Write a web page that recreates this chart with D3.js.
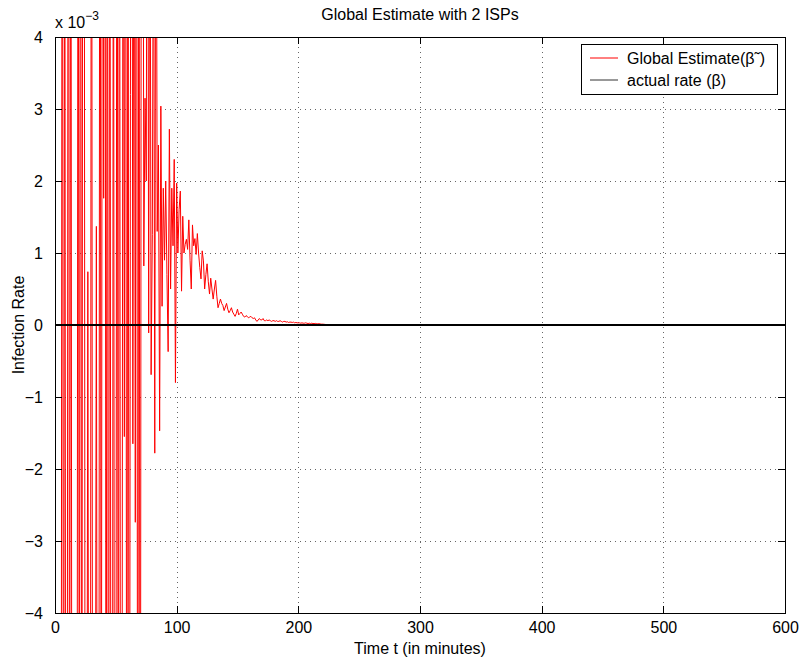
<!DOCTYPE html>
<html lang="en">
<head>
<meta charset="UTF-8">
<title>Global Estimate with 2 ISPs</title>
<script src="https://d3js.org/d3.v7.min.js"></script>
<style>
    body { margin: 0; background: #fff; }
    text { font-family: "Liberation Sans", Arial, sans-serif; fill: #000; }
    .axis path { display: none; }
    .axis line { stroke: #000; shape-rendering: crispEdges; }
    .grid line { stroke: #666; stroke-dasharray: 1,4; shape-rendering: crispEdges; }
    .grid path { display: none; }
</style>
</head>
<body>
<div id="chart"></div>
<script>
    // global estimate, one sample per minute from t = 0 (units of 1e-3)
    const estimate = [
        -6, -14, -9, -12, -8, -10, 12, -11, 9, -13,
        -9, 14, -10, 11, -12, -15, -9, -13, -11, 10,
        -9, 13, -12, 15, 9, -14, -10, 0.74, -12, -10,
        12, -11, -14, -9, 1.37, -12, -10, 14, -11, 12,
        1.76, 13, -10, 11, -13, 12, -9, -14, 10, -12,
        -10, 13, -11, 12, -13, -9, 10, -1.55, 12, -11,
        11, -13, 3.2, 12, -1.65, 10, -2.74, 13, -12, 11,
        -13, 9, 12, 0.82, 3.15, 2.0, 10, -0.11, 8, -0.69,
        1.26, 7, -1.78, 9, 1.3, 2.5, -1.47, 3.04, 0.26, 1.9,
        0.9, 2.0, 0.7, -0.37, 2.72, 0.5, 1.9, 1.1, 2.3, -0.8,
        1.97, 1.0, 1.6, 1.86, 0.47, 1.51, 1.0, 1.12, 1.19, 1.05,
        1.46, 0.9, 0.5, 1.39, 1.1, 1.2, 0.98, 1.27, 1.0, 0.8,
        0.64, 1.03, 0.89, 0.5, 0.7, 0.85, 0.6, 0.43, 0.65, 0.5,
        0.36, 0.5, 0.62, 0.4, 0.24, 0.3, 0.36, 0.3, 0.27, 0.2,
        0.25, 0.3, 0.22, 0.17, 0.2, 0.24, 0.18, 0.15, 0.12, 0.16,
        0.22, 0.14, 0.16, 0.18, 0.15, 0.12, 0.11, 0.13, 0.12, 0.1,
        0.11, 0.12, 0.1, 0.09, 0.1, 0.07, 0.05, 0.07, 0.09, 0.07,
        0.07, 0.09, 0.06, 0.06, 0.07, 0.06, 0.07, 0.06, 0.05, 0.06,
        0.06, 0.05, 0.06, 0.05, 0.05, 0.06, 0.05, 0.04, 0.05, 0.05,
        0.04, 0.045, 0.035, 0.04, 0.04, 0.035, 0.04, 0.03, 0.035, 0.03,
        0.03, 0.03, 0.025, 0.03, 0.025, 0.025, 0.03, 0.025, 0.02, 0.025,
        0.02, 0.025, 0.02, 0.02, 0.022, 0.02, 0.016, 0.018, 0.015, 0.012,
        0.012, 0.01, 0.008, 0.006, 0.005, 0.004, 0.003, 0.003, 0.002, 0.002, 0.002
    ];
    const actualTime = [0, 600];
    const actualRate = [0, 0];

    const xTicks = [0, 100, 200, 300, 400, 500, 600];
    const yTicks = [-4, -3, -2, -1, 0, 1, 2, 3, 4];
    const legendLabels = ["Global Estimate(β", "actual rate (β)"];

    const width = 800;
    const height = 658;
    const margin = {top: 37, right: 15, bottom: 45, left: 55};
    const tick = 7;

    const estData = estimate.map((v, i) => ({t: i, v: v}));
    const actData = actualTime.map((t, i) => ({t: t, v: actualRate[i]}));

    const svg = d3.select("#chart").append("svg")
        .attr("width", width)
        .attr("height", height);

    const x = d3.scaleLinear().domain([0, 600]).range([margin.left, width - margin.right]);
    const y = d3.scaleLinear().domain([-4, 4]).range([height - margin.bottom, margin.top]);

    // grid
    svg.append("g").attr("class", "grid")
        .attr("transform", `translate(0,${height - margin.bottom})`)
        .call(d3.axisBottom(x).tickValues(xTicks.slice(1, -1)).tickSize(-(y.range()[0] - y.range()[1])).tickFormat(""));
    svg.append("g").attr("class", "grid")
        .attr("transform", `translate(${margin.left},0)`)
        .call(d3.axisLeft(y).tickValues(yTicks.slice(1, -1)).tickSize(-(x.range()[1] - x.range()[0])).tickFormat(""));

    // clip for the data
    svg.append("clipPath").attr("id", "plot-clip")
        .append("rect")
        .attr("x", margin.left).attr("y", margin.top)
        .attr("width", x.range()[1] - x.range()[0])
        .attr("height", y.range()[0] - y.range()[1]);

    const line = d3.line().x(d => x(d.t)).y(d => y(d.v));

    svg.append("path")
        .datum(estData)
        .attr("clip-path", "url(#plot-clip)")
        .attr("fill", "none")
        .attr("stroke", "#ff0000")
        .attr("stroke-width", 1)
        .attr("d", line);

    svg.append("path")
        .datum(actData)
        .attr("clip-path", "url(#plot-clip)")
        .attr("fill", "none")
        .attr("stroke", "#000")
        .attr("stroke-width", 2.2)
        .attr("d", line);

    // axes, ticks pointing inward
    const fmt = d => d < 0 ? "\u2212" + Math.abs(d) : String(d);

    const xAxis = svg.append("g").attr("class", "axis")
        .attr("transform", `translate(0,${height - margin.bottom})`)
        .call(d3.axisBottom(x).tickValues(xTicks).tickSize(-tick).tickPadding(9).tickFormat(fmt));
    svg.append("g").attr("class", "axis")
        .attr("transform", `translate(0,${margin.top})`)
        .call(d3.axisTop(x).tickValues(xTicks).tickSize(-tick).tickFormat(""));
    const yAxis = svg.append("g").attr("class", "axis")
        .attr("transform", `translate(${margin.left},0)`)
        .call(d3.axisLeft(y).tickValues(yTicks).tickSize(-tick).tickPadding(tick + 5).tickFormat(fmt));
    svg.append("g").attr("class", "axis")
        .attr("transform", `translate(${width - margin.right},0)`)
        .call(d3.axisRight(y).tickValues(yTicks).tickSize(-tick).tickFormat(""));

    xAxis.selectAll("text").style("font-size", "16px");
    yAxis.selectAll("text").style("font-size", "16px");

    // box
    svg.append("rect")
        .attr("x", margin.left).attr("y", margin.top)
        .attr("width", x.range()[1] - x.range()[0])
        .attr("height", y.range()[0] - y.range()[1])
        .attr("fill", "none")
        .attr("stroke", "#000")
        .attr("stroke-width", 1)
        .style("shape-rendering", "crispEdges");

    // exponent label
    const expo = svg.append("text")
        .attr("x", margin.left)
        .attr("y", margin.top - 9)
        .style("font-size", "16px")
        .text("x 10");
    expo.append("tspan")
        .attr("dy", -8)
        .style("font-size", "12px")
        .text("\u22123");

    // title and axis labels
    svg.append("text")
        .attr("x", (x.range()[0] + x.range()[1]) / 2)
        .attr("y", 20)
        .attr("text-anchor", "middle")
        .style("font-size", "16px")
        .text("Global Estimate with 2 ISPs");

    svg.append("text")
        .attr("x", (x.range()[0] + x.range()[1]) / 2)
        .attr("y", height - 4)
        .attr("text-anchor", "middle")
        .style("font-size", "16px")
        .text("Time t (in minutes)");

    svg.append("text")
        .attr("transform", `translate(24,${(y.range()[0] + y.range()[1]) / 2}) rotate(-90)`)
        .attr("text-anchor", "middle")
        .style("font-size", "16px")
        .text("Infection Rate");

    // legend
    const lx = 581, ly = 44;
    const legend = svg.append("g");
    legend.append("rect")
        .attr("x", lx).attr("y", ly)
        .attr("width", 196).attr("height", 50)
        .attr("fill", "#fff")
        .attr("stroke", "#000")
        .attr("stroke-width", 1)
        .style("shape-rendering", "crispEdges");

    const legendColors = ["#ff0000", "#333"];
    legendLabels.forEach((label, i) => {
        const cy = ly + 14 + i * 22;
        legend.append("line")
            .attr("x1", lx + 9).attr("x2", lx + 37)
            .attr("y1", cy).attr("y2", cy)
            .attr("stroke", legendColors[i])
            .attr("stroke-width", 1);
        const t = legend.append("text")
            .attr("x", lx + 46)
            .attr("y", cy + 6)
            .style("font-size", "16px")
            .text(label);
        if (i === 0) {
            t.append("tspan").text("\u02DC");
            t.append("tspan").text(")");
        }
    });
</script>
</body>
</html>
